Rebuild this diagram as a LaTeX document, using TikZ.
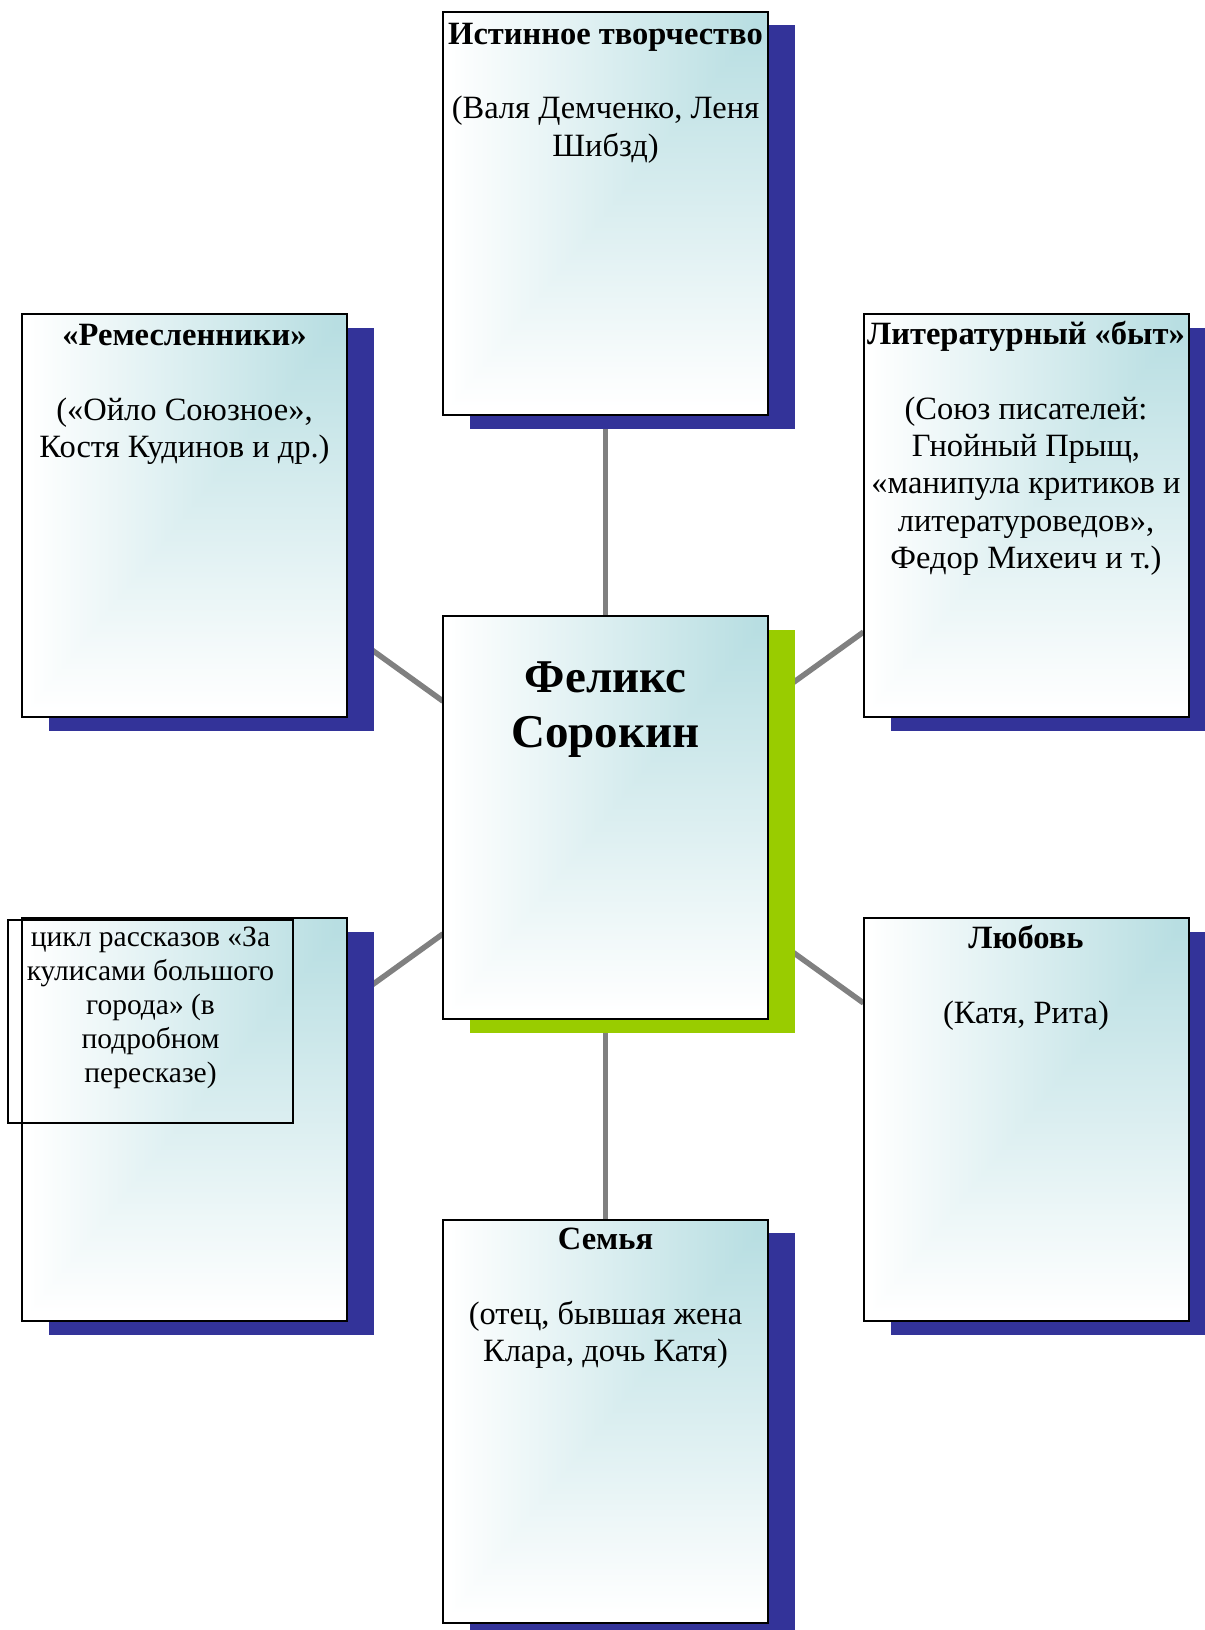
\documentclass[tikz,border=0pt]{standalone}
\usepackage{fontspec}
\setmainfont{Liberation Serif}
\definecolor{shadowblue}{RGB}{51,51,153}
\definecolor{shadowgreen}{RGB}{153,204,0}
\definecolor{linkgray}{RGB}{128,128,128}
% pale teal in the upper right corner, fading to white towards the left and bottom edges
% (the middle 50bp square of a shading is stretched over the filled path)
\pgfdeclarefunctionalshading{cornerteal}{\pgfpoint{-50bp}{-50bp}}{\pgfpoint{50bp}{50bp}}{}{
  25 exch sub 50 div exch 25 exch sub 50 div
  2 copy lt {exch} if pop
  0.03 sub 0.95 div dup 0 lt {pop 0} if dup 1 gt {pop 1} if
  dup 0.28 mul 0.72 add exch
  dup 0.13 mul 0.87 add exch
  0.115 mul 0.885 add
}
\pgfdeclarelayer{links}
\pgfdeclarelayer{shadows}
\pgfsetlayers{links,shadows,main}
\tikzset{
  card/.style={draw=black, line width=2bp, shade, shading=cornerteal,
    minimum width=325bp, minimum height=403bp, inner sep=0pt, outer sep=0pt},
  cardtext/.style={anchor=north, align=center, inner sep=0pt,
    font=\fontsize{32.5bp}{37.4bp}\selectfont},
  link/.style={draw=linkgray, line width=5.5bp},
}
% solid offset shadow behind a card
\newcommand\castshadow[2]{\fill[#2] ([shift={(27,13.5)}]#1.north west) rectangle ([shift={(27,13.5)}]#1.south east);}
% fixed height of the first text line, so that its baseline sits a known distance below the node top
\newcommand\firstline[1]{\rule{0pt}{#1}}
\begin{document}
\begin{tikzpicture}[x=1bp, y=-1bp]
\useasboundingbox (0,0) rectangle (1204,1630);

% cards
\node[card] (top)    at (605.5,213.5)  {};
\node[card] (craft)  at (184.5,515.5)  {};
\node[card] (lit)    at (1026,515.5)   {};
\node[card] (center) at (605.5,817.5)  {};
\node[card] (cycle)  at (184.5,1119.5) {};
\node[card] (love)   at (1026,1119.5)  {};
\node[card] (family) at (605.5,1421)   {};

% shadows
\begin{pgfonlayer}{shadows}
  \castshadow{top}{shadowblue}
  \castshadow{craft}{shadowblue}
  \castshadow{lit}{shadowblue}
  \castshadow{center}{shadowgreen}
  \castshadow{cycle}{shadowblue}
  \castshadow{love}{shadowblue}
  \castshadow{family}{shadowblue}
\end{pgfonlayer}

% connectors
\begin{pgfonlayer}{links}
  \draw[link] (center) -- (top);
  \draw[link] (center) -- (craft);
  \draw[link] (center) -- (lit);
  \draw[link] (center) -- (cycle);
  \draw[link] (center) -- (love);
  \draw[link] (center) -- (family);
\end{pgfonlayer}

% texts (first baseline 30bp below each node top)
\node[cardtext] (top-t) at ([yshift=-2bp]top.north)
  {\firstline{30bp}\textbf{Истинное творчество}\\[37.4bp](Валя Демченко, Леня\\Шибзд)};
\node[cardtext] (craft-t) at ([yshift=-1bp]craft.north)
  {\firstline{30bp}\textbf{«Ремесленники»}\\[37.4bp](«Ойло Союзное»,\\Костя Кудинов и др.)};
\node[cardtext] (lit-t) at ([yshift=0bp]lit.north)
  {\firstline{30bp}\textbf{Литературный «быт»}\\[37.4bp](Союз писателей:\\Гнойный Прыщ,\\«манипула критиков и\\литературоведов»,\\Федор Михеич и т.)};
\node[cardtext, font=\fontsize{47bp}{55bp}\selectfont\bfseries] (center-t) at ([yshift=-31bp]center.north)
  {\firstline{45bp}Феликс\\Сорокин};
\node[cardtext] (love-t) at ([yshift=0bp]love.north)
  {\firstline{30bp}\textbf{Любовь}\\[37.4bp](Катя, Рита)};
\node[cardtext] (family-t) at ([yshift=0bp]family.north)
  {\firstline{30bp}\textbf{Семья}\\[37.4bp](отец, бывшая жена\\Клара, дочь Катя)};

% text frame laid over the lower left card
\node[draw=black, line width=2bp, minimum width=285bp, minimum height=203bp, inner sep=0pt]
  (cyclebox) at (150.5,1021.5) {};
\node[cardtext, font=\fontsize{29.5bp}{34bp}\selectfont] (cycle-t) at ([yshift=-1bp]cyclebox.north)
  {\firstline{26bp}цикл рассказов «За\\кулисами большого\\города» (в\\подробном\\пересказе)};
\end{tikzpicture}
\end{document}
